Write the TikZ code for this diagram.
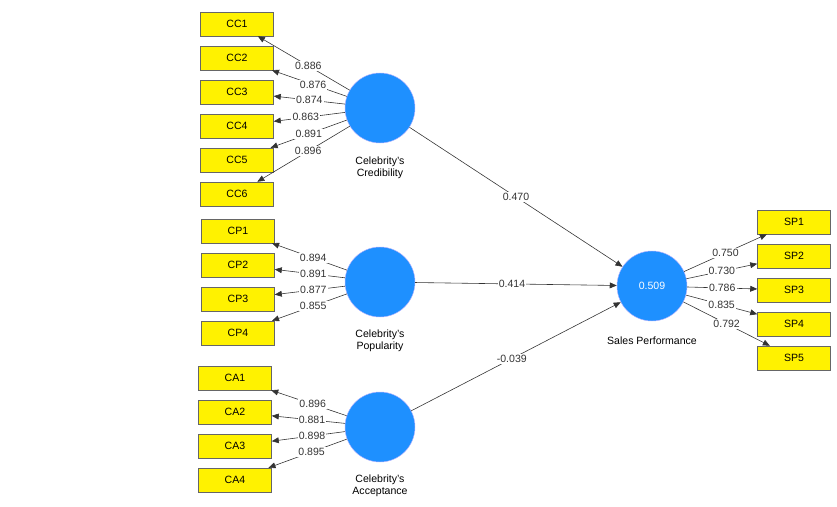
\documentclass[tikz,border=0pt]{standalone}
\usepackage{fontspec}
\setmainfont{Liberation Sans}
\usetikzlibrary{arrows.meta,positioning}

\begin{document}
\begin{tikzpicture}[x=0.03cm,y=-0.03cm,
    font=\fontsize{9}{10.5}\selectfont,
    item/.style={draw=black!60,fill=yellow,minimum width=73*0.03cm,minimum height=24*0.03cm,inner sep=0pt},
    latent/.style={circle,draw=blue!30,fill={rgb,255:red,30;green,144;blue,255},minimum size=70*0.03cm,inner sep=0pt,text=white},
    conn/.style={-{Triangle[length=6pt,width=5pt]},black!80,line width=0.5pt},
    val/.style={fill=white,inner sep=1pt}]
    \useasboundingbox (0,0) rectangle (837,507);
    % latent variables
    \node[latent] (cred) at (380,108) {};
    \node[latent] (pop) at (380,282) {};
    \node[latent] (acc) at (380,427) {};
    \node[latent] (sales) at (652,286) {0.509};
    \node[align=center] at (380,168) {Celebrity's\\Credibility};
    \node[align=center] at (380,341) {Celebrity's\\Popularity};
    \node[align=center] at (380,486) {Celebrity's\\Acceptance};
    \node at (652,341) {Sales Performance};
    % indicators
    \foreach \i/\y/\v/\p in {1/24/0.886/0.45,2/58/0.876/0.45,3/92/0.874/0.5,4/126/0.863/0.55,5/160/0.891/0.5,6/194/0.896/0.45} {
        \node[item] (cc\i) at (237,\y) {CC\i};
        \draw[conn] (cred) -- node[val,pos=\p] {\v} (cc\i);
    }
    \foreach \i/\y/\v in {1/231/0.894,2/265/0.891,3/299/0.877,4/333/0.855} {
        \node[item] (cp\i) at (238,\y) {CP\i};
        \draw[conn] (pop) -- node[val,pos=0.45] {\v} (cp\i);
    }
    \foreach \i/\y/\v in {1/378/0.896,2/412/0.881,3/446/0.898,4/480/0.895} {
        \node[item] (ca\i) at (235,\y) {CA\i};
        \draw[conn] (acc) -- node[val,pos=0.45] {\v} (ca\i);
    }
    \foreach \i/\y/\v in {1/222/0.750,2/256/0.730,3/290/0.786,4/324/0.835,5/358/0.792} {
        \node[item] (sp\i) at (794,\y) {SP\i};
        \draw[conn] (sales) -- node[val,pos=0.5] {\v} (sp\i);
    }
    % structural paths
    \draw[conn] (cred) -- node[val,pos=0.5] {0.470} (sales);
    \draw[conn] (pop) -- node[val,pos=0.48] {0.414} (sales);
    \draw[conn] (acc) -- node[val,pos=0.48] {-0.039} (sales);
\end{tikzpicture}
\end{document}
